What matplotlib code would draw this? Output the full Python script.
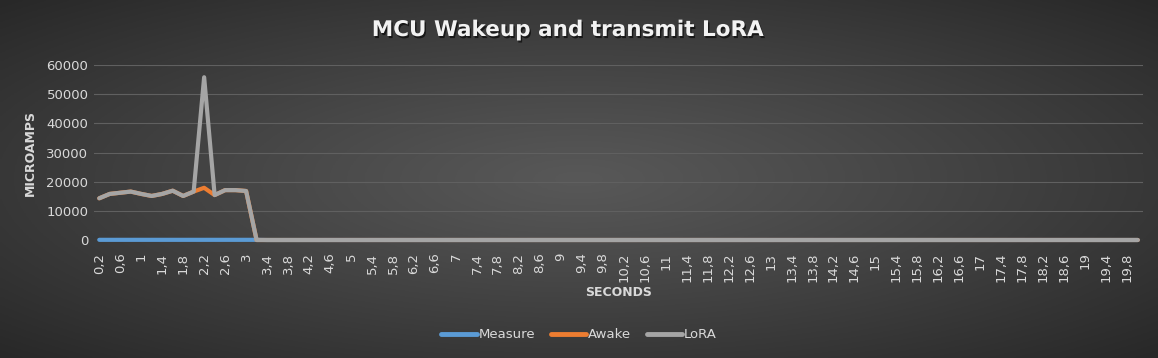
#!/usr/bin/env python3

"""
MCU Wakeup and transmit LoRA - current profile chart
Output: out.png
"""

import numpy as np
import matplotlib.pyplot as plt
import matplotlib.patheffects as pe

# ============================================================
# Data (microamps per 0.2 s sample)
# ============================================================

seconds = np.round(np.arange(1, 101) * 0.2, 1)

lora = [
    14300, 15800, 16200, 16600, 15800, 15100, 15800, 16900,
    15100, 16600, 55800, 15400, 17100, 17100, 16800, 0,
    0, 0, 0, 0, 0, 0, 0, 0, 0, 0, 0, 0, 0, 0, 0, 0, 0, 0,
    0, 0, 0, 0, 0, 0, 0, 0, 0, 0, 0, 0, 0, 0, 0, 0, 0, 0,
    0, 0, 0, 0, 0, 0, 0, 0, 0, 0, 0, 0, 0, 0, 0, 0, 0, 0,
    0, 0, 0, 0, 0, 0, 0, 0, 0, 0, 0, 0, 0, 0, 0, 0, 0, 0,
    0, 0, 0, 0, 0, 0, 0, 0, 0, 0, 0, 0,
]

awake = [
    14300, 15800, 16200, 16600, 15800, 15100, 15800, 16900,
    15100, 16600, 17900, 15400, 17100, 17100, 16800, 0,
    0, 0, 0, 0, 0, 0, 0, 0, 0, 0, 0, 0, 0, 0, 0, 0, 0, 0,
    0, 0, 0, 0, 0, 0, 0, 0, 0, 0, 0, 0, 0, 0, 0, 0, 0, 0,
    0, 0, 0, 0, 0, 0, 0, 0, 0, 0, 0, 0, 0, 0, 0, 0, 0, 0,
    0, 0, 0, 0, 0, 0, 0, 0, 0, 0, 0, 0, 0, 0, 0, 0, 0, 0,
    0, 0, 0, 0, 0, 0, 0, 0, 0, 0, 0, 0,
]

measure = [
    60, 60, 60, 60, 60, 60, 60, 60, 60, 60, 60, 60, 60, 60, 60, 60,
    0, 0, 0, 0, 0, 0, 0, 0, 0, 0, 0, 0, 0, 0, 0, 0, 0, 0,
    0, 0, 0, 0, 0, 0, 0, 0, 0, 0, 0, 0, 0, 0, 0, 0, 0, 0,
    0, 0, 0, 0, 0, 0, 0, 0, 0, 0, 0, 0, 0, 0, 0, 0, 0, 0,
    0, 0, 0, 0, 0, 0, 0, 0, 0, 0, 0, 0, 0, 0, 0, 0, 0, 0,
    0, 0, 0, 0, 0, 0, 0, 0, 0, 0, 0, 0,
]

series_names = ["Measure", "Awake", "LoRA"]
series_colors = ["#5b9bd5", "#ed7d31", "#a5a5a5"]

W, H = 1158, 358
TEXT = "#d9d9d9"


# ============================================================
# Background gradient
# ============================================================

def draw_background(fig):

    bg = fig.add_axes([0, 0, 1, 1], zorder=-10)

    yy, xx = np.mgrid[-1:1:200j, -1:1:400j]
    r = np.sqrt(xx ** 2 + yy ** 2) / np.sqrt(2)

    inner = np.array([0x58, 0x58, 0x58]) / 255
    outer = np.array([0x28, 0x28, 0x28]) / 255

    img = inner + (outer - inner) * np.clip(r, 0, 1)[..., None] ** 1.1

    bg.imshow(img, aspect="auto", extent=[0, 1, 0, 1])
    bg.axis("off")


# ============================================================
# Chart
# ============================================================

def main():

    fig = plt.figure(figsize=(W / 100, H / 100), dpi=100)

    draw_background(fig)

    left, right = 94 / W, 1143 / W
    bottom, top = (H - 240) / H, (H - 65) / H

    ax = fig.add_axes([left, bottom, right - left, top - bottom])
    ax.patch.set_alpha(0)

    x = np.arange(len(seconds))

    for name, color, values in zip(
        series_names, series_colors, [measure, awake, lora]
    ):
        ax.plot(
            x,
            values,
            color=color,
            linewidth=3,
            solid_capstyle="round",
            solid_joinstyle="round",
            label=name,
            clip_on=False,
        )

    ax.set_xlim(-0.5, len(seconds) - 0.5)
    ax.set_ylim(0, 60000)
    ax.set_yticks(np.arange(0, 60001, 10000))

    ax.set_xticks(x[::2])
    ax.set_xticklabels(
        [f"{v:g}".replace(".", ",") for v in seconds[::2]],
        rotation=90,
    )

    ax.tick_params(
        axis="both",
        length=0,
        colors=TEXT,
        labelsize=9.5,
    )
    ax.tick_params(axis="y", pad=4)
    ax.tick_params(axis="x", pad=9)

    ax.grid(axis="y", color="#606060", linewidth=0.8)
    ax.set_axisbelow(True)

    for spine in ax.spines.values():
        spine.set_visible(False)

    # ---------------------------------------
    # Titles
    # ---------------------------------------

    fig.text(
        0.49,
        1 - 30 / H,
        "MCU Wakeup and transmit LoRA",
        ha="center",
        va="center",
        fontsize=15.5,
        fontweight="bold",
        color="#f2f2f2",
        path_effects=[
            pe.withSimplePatchShadow(offset=(1, -1.5), shadow_rgbFace="black", alpha=0.6)
        ],
    )

    fig.text(
        (left + right) / 2,
        1 - 292 / H,
        "SECONDS",
        ha="center",
        va="center",
        fontsize=9,
        fontweight="bold",
        color=TEXT,
    )

    fig.text(
        30 / W,
        1 - 153 / H,
        "MICROAMPS",
        ha="center",
        va="center",
        rotation=90,
        fontsize=9,
        fontweight="bold",
        color=TEXT,
    )

    # ---------------------------------------
    # Legend
    # ---------------------------------------

    leg = fig.legend(
        loc="center",
        bbox_to_anchor=(0.5, 1 - 335 / H),
        ncol=3,
        frameon=False,
        fontsize=9.5,
        handlelength=2.7,
        handletextpad=0.1,
        columnspacing=1.2,
        labelcolor=TEXT,
    )
    for line in leg.get_lines():
        line.set_linewidth(3.5)

    fig.savefig("out.png", dpi=100)
    plt.close(fig)


if __name__ == "__main__":

    main()
